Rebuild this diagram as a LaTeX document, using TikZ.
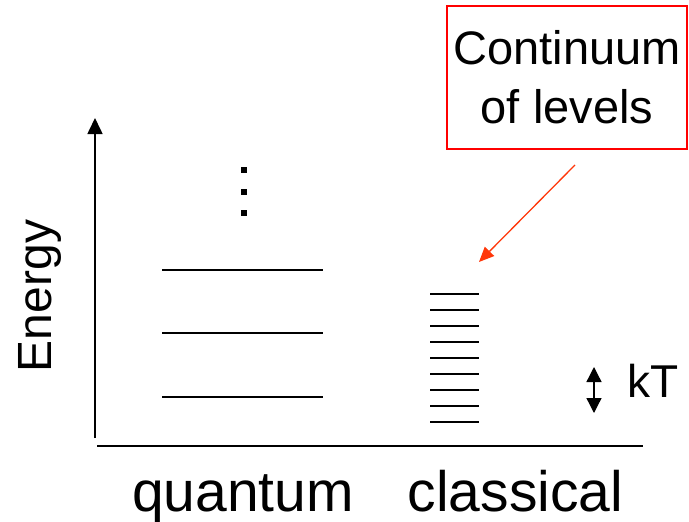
\documentclass[tikz,border=0pt]{standalone}
\usepackage{fontspec}
\setmainfont{Liberation Sans}
\usepackage{xcolor}
\usetikzlibrary{arrows.meta,positioning}
\definecolor{boxred}{RGB}{255,0,0}
\definecolor{pointred}{RGB}{255,55,10}

\begin{document}
\begin{tikzpicture}[
  x=1pt,
  y=-1pt,
  level/.style={line width=1.5pt},
  axis/.style={line width=1.6pt},
  bigtxt/.style={font=\fontsize{57}{68}\selectfont,inner sep=0pt},
  midtxt/.style={font=\fontsize{47}{59}\selectfont,inner sep=0pt,align=center},
  pointer/.style={draw=pointred,line width=1.3pt,-{Triangle[length=15pt,width=13pt]}},
  kTarrow/.style={line width=1.3pt,{Triangle[length=15pt,width=15pt]}-{Triangle[length=15pt,width=15pt]}}
]
  \useasboundingbox (0,0) rectangle (689,522);

  % axes
  \coordinate (origin) at (95,438);
  \coordinate (etop) at (95,118);
  \coordinate (xstart) at (97,446);
  \coordinate (xend) at (643,446);
  \draw[axis,-{Triangle[length=16pt,width=15pt]}] (origin) -- (etop);
  \draw[axis] (xstart) -- (xend);

  % quantum levels
  \foreach \y in {270,333,397}
    \draw[level] (162,\y) -- (323,\y);
  \foreach \y in {170,192,213}
    \fill (241,\y-3) rectangle (247,\y+3);

  % classical levels
  \foreach \y in {294,310,...,422}
    \draw[level] (430,\y) -- (479,\y);

  % thermal energy scale
  \coordinate (kTtop) at (594,367);
  \coordinate (kTbot) at (594,413);
  \draw[kTarrow] (kTbot) -- (kTtop);
  \node[bigtxt,font=\fontsize{46}{55}\selectfont,anchor=base west] (kT) at (627,397) {kT};

  % labels
  \node[bigtxt,font=\fontsize{48}{58}\selectfont,rotate=90,anchor=base] (energy) at (52,296) {Energy};
  \node[bigtxt,anchor=base] (quantum) at (243,511) {quantum};
  \node[bigtxt,anchor=base] (classical) at (515.5,511) {classical};

  % callout
  \node[midtxt,draw=boxred,line width=1.6pt,minimum width=240pt,minimum height=143pt]
    (callout) at (567,77.5) {Continuum\\of levels};
  \coordinate (tail) at (575,165);
  \coordinate (head) at (479,262);
  \draw[pointer] (tail) -- (head);
\end{tikzpicture}
\end{document}
